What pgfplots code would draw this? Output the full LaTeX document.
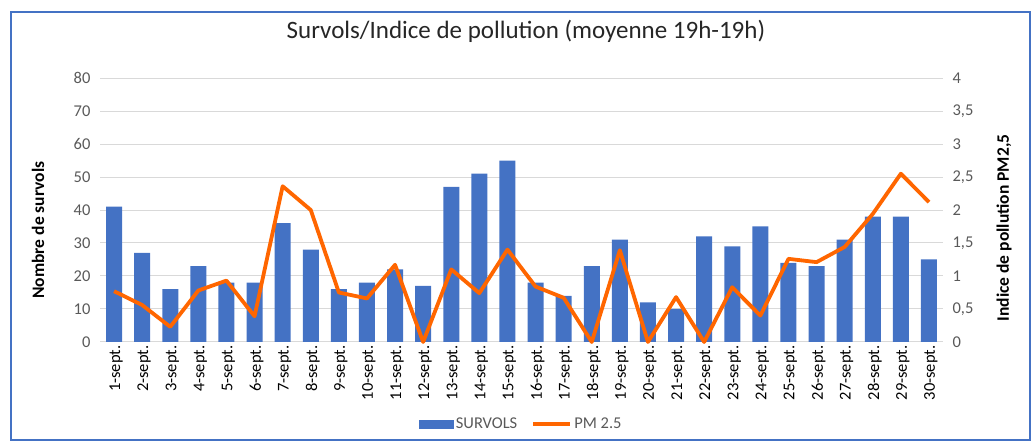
\documentclass[border=0pt]{standalone}
\usepackage{fontspec}
\setmainfont{Carlito}
\usepackage{pgfplots}
\pgfplotsset{compat=1.18}
\definecolor{barblue}{HTML}{4472C4}
\definecolor{pmorange}{HTML}{FF6600}
\definecolor{gridgray}{HTML}{D9D9D9}
\definecolor{ticktext}{HTML}{595959}

\pgfplotstableread{
x survols pm
1 41 0.77
2 27 0.56
3 16 0.23
4 23 0.78
5 18 0.93
6 18 0.39
7 36 2.36
8 28 2.00
9 16 0.75
10 18 0.66
11 22 1.17
12 17 0.00
13 47 1.10
14 51 0.74
15 55 1.40
16 18 0.84
17 14 0.67
18 23 0.00
19 31 1.39
20 12 0.00
21 10 0.68
22 32 0.00
23 29 0.83
24 35 0.40
25 24 1.26
26 23 1.21
27 31 1.44
28 38 1.94
29 38 2.55
30 25 2.12
}\data

\begin{document}
\begin{tikzpicture}[x=1pt,y=1pt]
\path[use as bounding box] (0,0) rectangle (1035,446);
\draw[barblue, line width=1.5pt] (11,6) rectangle (1030,434);
\begin{axis}[
  at={(100pt,104pt)}, anchor=south west,
  scale only axis, width=843pt, height=264pt,
  xmin=0.5, xmax=30.5, ymin=0, ymax=80,
  ytick={0,10,...,80},
  xtick={1,...,30},
  xticklabels={1-sept.,2-sept.,3-sept.,4-sept.,5-sept.,6-sept.,7-sept.,8-sept.,9-sept.,10-sept.,11-sept.,12-sept.,13-sept.,14-sept.,15-sept.,16-sept.,17-sept.,18-sept.,19-sept.,20-sept.,21-sept.,22-sept.,23-sept.,24-sept.,25-sept.,26-sept.,27-sept.,28-sept.,29-sept.,30-sept.},
  axis x line*=bottom, axis y line*=left,
  x axis line style={draw=gridgray, line width=1pt, -},
  y axis line style={draw=none},
  major tick length=0pt,
  ymajorgrids, grid style={gridgray, line width=1pt},
  /pgf/number format/assume math mode=true,
  tick label style={font=\fontsize{16.5}{19}\selectfont, text=ticktext},
  x tick label style={rotate=90, anchor=east, xshift=0pt, yshift=-2pt, text=black},
  yticklabel style={xshift=-6pt},
  ylabel={Nombre de survols},
  ylabel style={at={(axis description cs:-0.0735,0.424)}, rotate=0, anchor=center, font=\fontsize{17.5}{20}\selectfont\bfseries},
  title={Survols/Indice de pollution (moyenne 19h-19h)},
  title style={at={(axis description cs:0.5053,1.155)}, anchor=center, font=\fontsize{25}{28}\selectfont, text=black!85},
  clip=false,
]
\addplot[ybar, bar width=16pt, fill=barblue, draw=none] table[x=x, y=survols] {\data};
\end{axis}
\begin{axis}[
  at={(100pt,104pt)}, anchor=south west,
  scale only axis, width=843pt, height=264pt,
  xmin=0.5, xmax=30.5, ymin=0, ymax=4,
  ytick={0,0.5,...,4},
  axis x line=none, axis y line*=right,
  y axis line style={draw=none},
  major tick length=0pt,
  /pgf/number format/.cd, use comma, assume math mode=true, /pgfplots/.cd,
  tick label style={font=\fontsize{16.5}{19}\selectfont, text=ticktext},
  yticklabel style={xshift=6pt},
  ylabel={Indice de pollution PM2,5},
  ylabel style={at={(axis description cs:1.0724,0.432)}, rotate=0, anchor=center, font=\fontsize{17.5}{20}\selectfont\bfseries},
  legend style={at={(axis description cs:0.5,-0.31)}, anchor=center, draw=none, fill=none, legend columns=2, font=\fontsize{16.5}{19}\selectfont, text=ticktext, /tikz/every even column/.append style={column sep=12pt}},
  legend cell align=left,
  clip=false,
]
\addlegendimage{legend image code/.code={\fill[barblue] (0pt,-4pt) rectangle (34pt,4pt);}}
\addlegendentry{SURVOLS}
\addplot[pmorange, line width=3.8pt, line join=round, sharp plot, legend image code/.code={\draw[pmorange, line width=4pt] (0pt,0pt) -- (37pt,0pt);}] table[x=x, y=pm] {\data};
\addlegendentry{PM 2.5}
\end{axis}
\end{tikzpicture}
\end{document}
